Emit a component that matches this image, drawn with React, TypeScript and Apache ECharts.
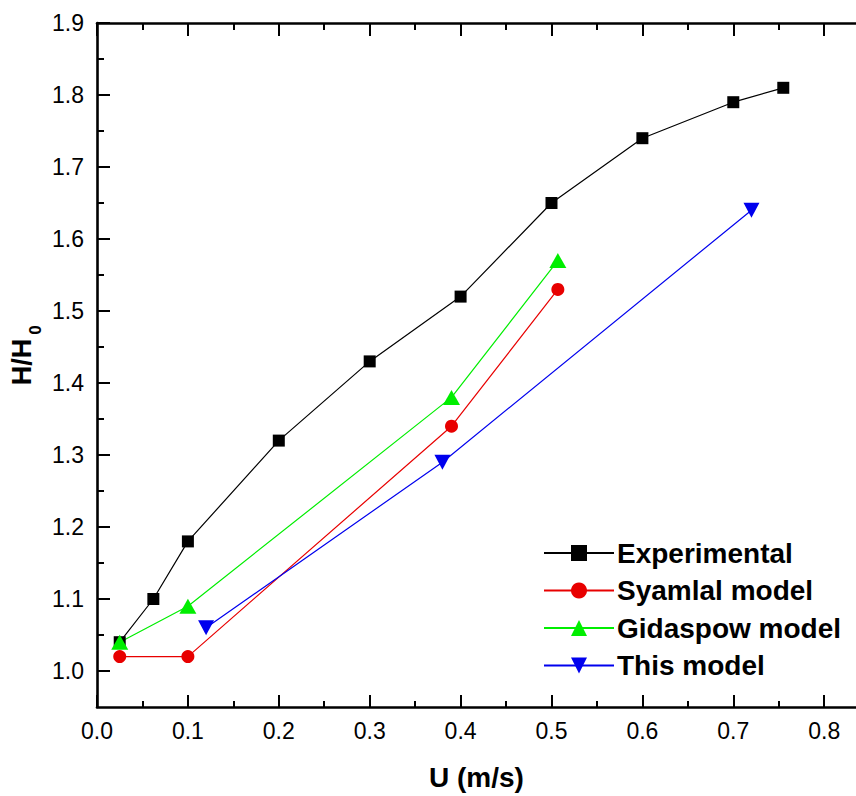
import React, { useEffect, useRef } from "react";
import * as echarts from "echarts";

// Superficial gas velocity U (m/s) and bed expansion ratio H/H0
const expU = [0.025, 0.062, 0.1, 0.2, 0.3, 0.4, 0.5, 0.6, 0.7, 0.755];
const expH = [1.04, 1.1, 1.18, 1.32, 1.43, 1.52, 1.65, 1.74, 1.79, 1.81];

const syamlalU = [0.025, 0.1, 0.39, 0.507];
const syamlalH = [1.02, 1.02, 1.34, 1.53];

const gidaspowU = [0.025, 0.1, 0.39, 0.507];
const gidaspowH = [1.04, 1.09, 1.38, 1.57];

const thisU = [0.12, 0.38, 0.72];
const thisH = [1.06, 1.29, 1.64];

const xMajorTicks = [0, 0.1, 0.2, 0.3, 0.4, 0.5, 0.6, 0.7, 0.8];
const xMinorTicks = [0.05, 0.15, 0.25, 0.35, 0.45, 0.55, 0.65, 0.75];
const yMajorTicks = [1.0, 1.1, 1.2, 1.3, 1.4, 1.5, 1.6, 1.7, 1.8, 1.9];
const yMinorTicks = [1.05, 1.15, 1.25, 1.35, 1.45, 1.55, 1.65, 1.75, 1.85];

const FONT = 'Arial, "Liberation Sans", sans-serif';

const pairs = (xs: number[], ys: number[]) => xs.map((x, i) => [x, ys[i]]);

export default function App() {
  const ref = useRef<HTMLDivElement>(null);

  useEffect(() => {
    if (!ref.current) return;
    const chart = echarts.init(ref.current, null, { renderer: "svg" });

    // the frame runs on past the right edge of the page
    const X_MIN = 0;
    const X_MAX = 0.835;
    const Y_MIN = 0.95;
    const Y_MAX = 1.9;

    const axisLine = { show: true, lineStyle: { color: "#000", width: 2.6 } };

    const xAxisBase = (position: "bottom" | "top") => ({
      type: "value" as const,
      position,
      min: X_MIN,
      max: X_MAX,
      splitLine: { show: false },
    });
    const yAxisBase = {
      type: "value" as const,
      position: "left" as const,
      min: Y_MIN,
      max: Y_MAX,
      splitLine: { show: false },
    };

    chart.setOption({
      animation: false,
      backgroundColor: "#fff",
      grid: { left: 97, right: 0, top: 23, bottom: 89, containLabel: false },
      xAxis: [
        {
          ...xAxisBase("bottom"),
          axisLine,
          axisTick: {
            inside: true,
            length: 12,
            lineStyle: { color: "#000", width: 2 },
            customValues: xMajorTicks,
          },
          axisLabel: {
            customValues: xMajorTicks,
            formatter: (v: number) => v.toFixed(1),
            color: "#000",
            fontFamily: FONT,
            fontSize: 23,
            margin: 12,
          },
          name: "U (m/s)",
          nameLocation: "middle",
          nameGap: 56,
          nameTextStyle: {
            color: "#000",
            fontFamily: FONT,
            fontWeight: "bold",
            fontSize: 28,
          },
        },
        {
          ...xAxisBase("bottom"),
          axisLine: { show: false },
          axisTick: {
            inside: true,
            length: 6,
            lineStyle: { color: "#000", width: 2 },
            customValues: xMinorTicks,
          },
          axisLabel: { show: false },
        },
        {
          ...xAxisBase("top"),
          axisLine,
          axisTick: {
            inside: true,
            length: 13,
            lineStyle: { color: "#000", width: 2 },
            customValues: xMajorTicks,
          },
          axisLabel: { show: false },
        },
        {
          ...xAxisBase("top"),
          axisLine: { show: false },
          axisTick: {
            inside: true,
            length: 7,
            lineStyle: { color: "#000", width: 2 },
            customValues: xMinorTicks,
          },
          axisLabel: { show: false },
        },
      ],
      yAxis: [
        {
          ...yAxisBase,
          axisLine,
          axisTick: {
            inside: true,
            length: 13,
            lineStyle: { color: "#000", width: 2 },
            customValues: yMajorTicks,
          },
          axisLabel: {
            customValues: yMajorTicks,
            formatter: (v: number) => v.toFixed(1),
            color: "#000",
            fontFamily: FONT,
            fontSize: 23,
            margin: 13,
          },
        },
        {
          ...yAxisBase,
          axisLine: { show: false },
          axisTick: {
            inside: true,
            length: 7,
            lineStyle: { color: "#000", width: 2 },
            customValues: yMinorTicks,
          },
          axisLabel: { show: false },
        },
      ],
      legend: {
        orient: "vertical",
        left: 543,
        top: 539,
        itemWidth: 70,
        itemHeight: 20,
        itemGap: 9.5,
        padding: 0,
        textStyle: {
          color: "#000",
          fontFamily: FONT,
          fontWeight: "bold",
          fontSize: 28,
          lineHeight: 28,
          padding: [0, 0, 0, -2],
        },
        data: ["Experimental", "Syamlal model", "Gidaspow model", "This model"],
      },
      series: [
        {
          name: "Experimental",
          type: "line",
          data: pairs(expU, expH),
          symbol: "rect",
          symbolSize: 12,
          color: "#000",
          lineStyle: { color: "#000", width: 1.2 },
          itemStyle: { color: "#000" },
        },
        {
          name: "Syamlal model",
          type: "line",
          data: pairs(syamlalU, syamlalH),
          symbol: "circle",
          symbolSize: 13,
          color: "#e80000",
          lineStyle: { color: "#e80000", width: 1.2 },
          itemStyle: { color: "#e80000" },
        },
        {
          name: "Gidaspow model",
          type: "line",
          data: pairs(gidaspowU, gidaspowH),
          symbol: "triangle",
          symbolSize: [17, 15],
          color: "#00ee00",
          lineStyle: { color: "#00ee00", width: 1.2 },
          itemStyle: { color: "#00ee00" },
        },
        {
          name: "This model",
          type: "line",
          data: pairs(thisU, thisH),
          symbol: "triangle",
          symbolRotate: 180,
          symbolSize: [16, 15],
          color: "#0000ee",
          lineStyle: { color: "#0000ee", width: 1.2 },
          itemStyle: { color: "#0000ee" },
        },
      ],
      graphic: [
        {
          type: "group",
          x: 22,
          y: 362,
          rotation: Math.PI / 2,
          children: [
            {
              type: "text",
              x: 0,
              y: 0,
              style: {
                text: "H/H",
                fontFamily: FONT,
                fontWeight: "bold",
                fontSize: 27,
                fill: "#000",
                align: "center",
                verticalAlign: "middle",
              },
            },
            {
              type: "text",
              x: 32,
              y: 13,
              style: {
                text: "0",
                fontFamily: FONT,
                fontWeight: "bold",
                fontSize: 17,
                fill: "#000",
                align: "center",
                verticalAlign: "middle",
              },
            },
          ],
        },
      ],
    });

    return () => chart.dispose();
  }, []);

  return (
    <div
      ref={ref}
      style={{ position: "fixed", left: 0, top: 0, width: 856, height: 796 }}
    />
  );
}
